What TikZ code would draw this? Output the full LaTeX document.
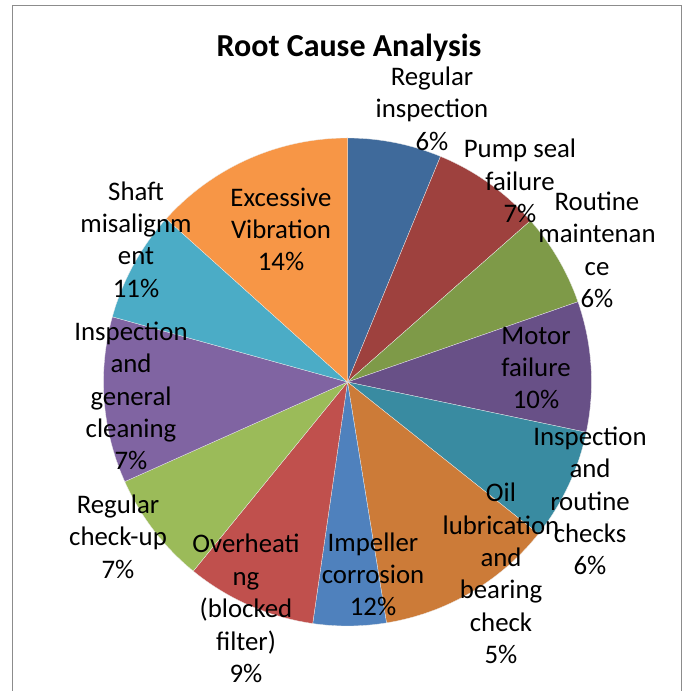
\documentclass[tikz,border=0pt]{standalone}
\usepackage{fontspec}
\setmainfont{Carlito}
\definecolor{frameclr}{HTML}{8C8C8C}
\definecolor{sliceA}{HTML}{3F6A9B}
\definecolor{sliceB}{HTML}{9E413E}
\definecolor{sliceC}{HTML}{7E9A48}
\definecolor{sliceD}{HTML}{685087}
\definecolor{sliceE}{HTML}{398BA1}
\definecolor{sliceF}{HTML}{CC7B38}
\definecolor{sliceG}{HTML}{4F81BD}
\definecolor{sliceH}{HTML}{C0504D}
\definecolor{sliceI}{HTML}{9BBB59}
\definecolor{sliceJ}{HTML}{8064A2}
\definecolor{sliceK}{HTML}{4BACC6}
\definecolor{sliceL}{HTML}{F79646}
\tikzset{
  lbl/.style={align=center,inner sep=0pt,font=\fontsize{26.8}{32.4}\selectfont},
  ttl/.style={inner sep=0pt,font=\fontsize{32}{38}\selectfont\bfseries}
}
\begin{document}
\begin{tikzpicture}[x=1pt,y=1pt]
\useasboundingbox (0,0) rectangle (687,691);
\def\R{244}
\coordinate (C) at (347.5,309);
% slices, clockwise from the top
\foreach \a/\b/\c in {90/67.6/sliceA,67.6/41.4/sliceB,41.4/19.2/sliceC,19.2/-11.9/sliceD,
  -11.9/-38.5/sliceE,-38.5/-80.8/sliceF,-80.8/-98.2/sliceG,-98.2/-129.2/sliceH,
  -129.2/-155.9/sliceI,-155.9/-195.5/sliceJ,-195.5/-222/sliceK,-222/-270/sliceL}
  {\fill[\c,draw=white!85!gray,line width=0.3pt] (C) -- ++(\a:\R) arc[start angle=\a,end angle=\b,radius=\R] -- cycle;}
% frame
\draw[frameclr,line width=1.3pt] (12.5,-5) -- (12.5,685.5) -- (681.5,685.5) -- (681.5,-5);
\node[ttl] (title) at (349,643.4) {Root Cause Analysis};
\node[lbl] (reginsp) at (432,582.3) {Regular\\inspection\\6\%};
\node[lbl] (pumpseal) at (520,510) {Pump seal\\failure\\7\%};
\node[lbl] (routine) at (597,441.3) {Routine\\maintenan\\ce\\6\%};
\node[lbl] (motor) at (536,323) {Motor\\failure\\10\%};
\node[lbl] (insproutine) at (590,190) {Inspection\\and\\routine\\checks\\6\%};
\node[lbl] (oil) at (501,117.5) {Oil\\lubrication\\and\\bearing\\check\\5\%};
\node[lbl] (impeller) at (373,116.7) {Impeller\\corrosion\\12\%};
\node[lbl] (overheat) at (246,82.4) {Overheati\\ng\\(blocked\\filter)\\9\%};
\node[lbl] (regcheck) at (118,154.3) {Regular\\check-up\\7\%};
\node[lbl] (inspgen) at (131,295) {Inspection\\and\\general\\cleaning\\7\%};
\node[lbl] (shaft) at (136,451.5) {Shaft\\misalignm\\ent\\11\%};
\node[lbl] (vibration) at (281,461.7) {Excessive\\Vibration\\14\%};
\end{tikzpicture}
\end{document}
